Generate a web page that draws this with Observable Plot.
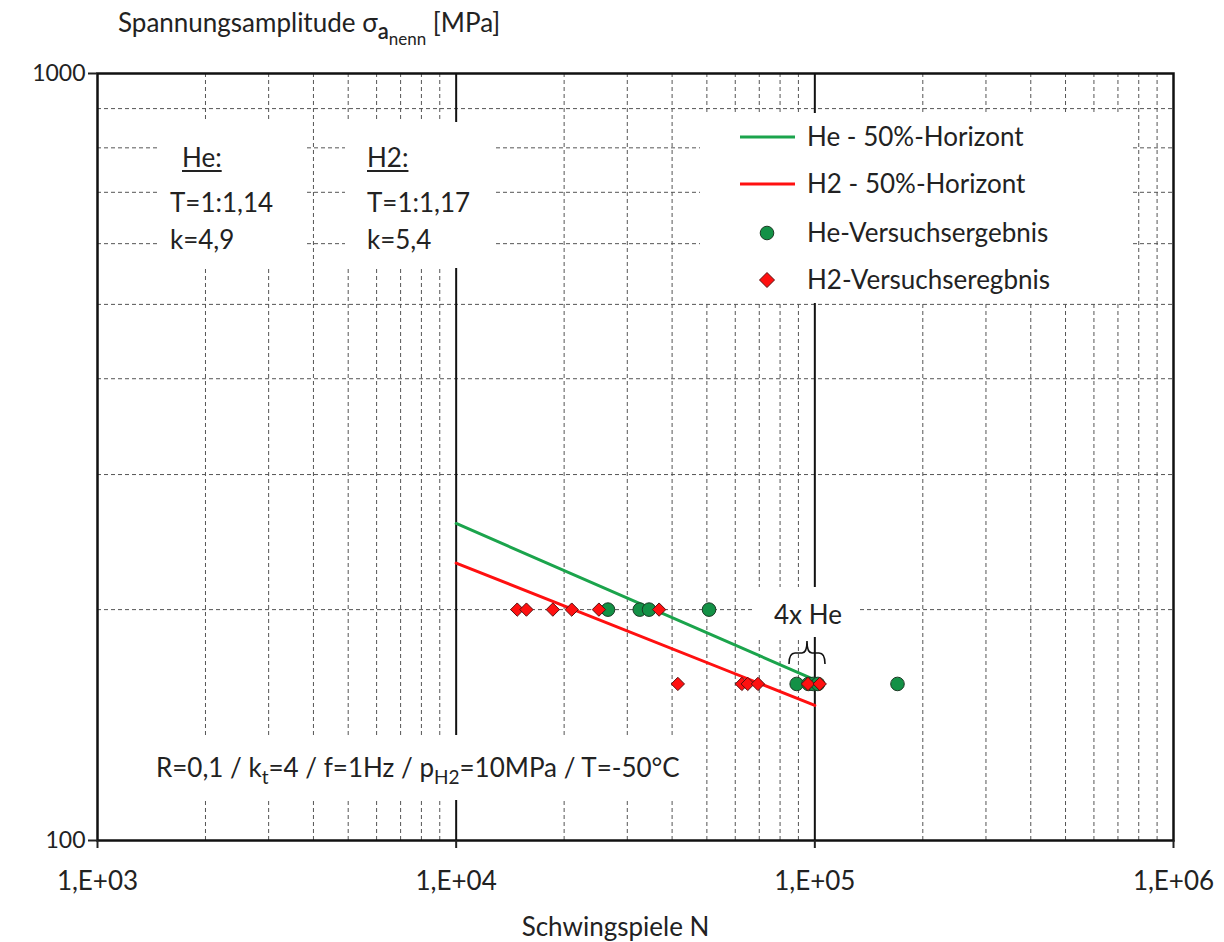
<!DOCTYPE html>
<html><head><meta charset="utf-8">
<script src="https://cdn.jsdelivr.net/npm/d3@7"></script>
<script src="https://cdn.jsdelivr.net/npm/@observablehq/plot@0.6"></script>
<style>
body{margin:0;background:#fff;font-family:Lato,"Open Sans",sans-serif;color:#222;}
#wrap{position:relative;width:1224px;height:942px;overflow:hidden;}
.ov{position:absolute;background:#fff;box-sizing:border-box;font-size:26px;line-height:1;white-space:nowrap;}
.ov div{position:absolute;}
#title{position:absolute;left:118px;top:6px;font-size:26px;white-space:nowrap;}
.sub1{font-size:22px;position:relative;top:7px;font-weight:600;}
.sub2{font-size:17px;position:relative;top:6px;font-weight:400;}
.s{font-size:19px;position:relative;top:7px;}
.u{text-decoration:underline;text-underline-offset:3px;text-decoration-thickness:2px;}
</style></head><body>
<div id="wrap"></div>
<script>
// ---- data ----
const heCycles = [26500, 32500, 34500, 50700, 89000, 96000, 99000, 102000, 170000];
const heStress = [200, 200, 200, 200, 160, 160, 160, 160, 160];
const h2Cycles = [14800, 15700, 18600, 21000, 25000, 36800, 41500, 62600, 65000, 69400, 95700, 103200];
const h2Stress = [200, 200, 200, 200, 200, 200, 160, 160, 160, 160, 160, 160];
const heLineN = [10000, 100000];
const heLineS = [259, 162];
const h2LineN = [10000, 100000];
const h2LineS = [230, 150];
const xTicks = [1e3, 1e4, 1e5, 1e6];
const xTickLabels = ["1,E+03", "1,E+04", "1,E+05", "1,E+06"];
const yTicks = [100, 1000];
const yTickLabels = ["100", "1000"];
const xDecades = [1e3, 1e4, 1e5];
const mantissas = [2, 3, 4, 5, 6, 7, 8, 9];
const yMinor = [200, 300, 400, 500, 600, 700, 800, 900];
const xMajorGrid = [1e4, 1e5];
const legendLabels = ["He - 50%-Horizont", "H2 - 50%-Horizont", "He-Versuchsergebnis", "H2-Versuchseregbnis"];

const xMinor = xDecades.flatMap(d => mantissas.map(m => d * m));
const heDots = heCycles.map((n, i) => ({n, s: heStress[i]}));
const h2Dots = h2Cycles.map((n, i) => ({n, s: h2Stress[i]}));
const heLine = heLineN.map((n, i) => ({n, s: heLineS[i]}));
const h2Line = h2LineN.map((n, i) => ({n, s: h2LineS[i]}));

const GREEN_LINE = "#1ba44c", GREEN_DOT = "#139146", RED = "#ff1010";
const FONT = "Lato, 'Open Sans', sans-serif";

const chart = Plot.plot({
  width: 1224, height: 942,
  marginLeft: 97, marginRight: 51, marginTop: 73, marginBottom: 102,
  style: {fontFamily: FONT, fontSize: "26px", color: "#222", background: "white"},
  x: {type: "log", domain: [1e3, 1e6]},
  y: {type: "log", domain: [100, 1000]},
  marks: [
    Plot.ruleX(xMinor, {stroke: "#555", strokeWidth: 1, strokeDasharray: "4,3"}),
    Plot.ruleY(yMinor, {stroke: "#555", strokeWidth: 1, strokeDasharray: "4,3"}),
    Plot.ruleX(xMajorGrid, {stroke: "#111", strokeWidth: 2}),
    Plot.frame({stroke: "#111", strokeWidth: 2.5}),
    Plot.axisX({ticks: xTicks, tickFormat: d => xTickLabels[Math.round(Math.log10(d)) - 3], tickSize: 8, tickPadding: 23, strokeWidth: 2, label: null, fontSize: 26}),
    Plot.axisY({ticks: yTicks, tickFormat: d => yTickLabels[Math.round(Math.log10(d)) - 2], tickSize: 9, tickPadding: 3, strokeWidth: 2, label: null, fontSize: 23}),
    Plot.line(heLine, {x: "n", y: "s", stroke: GREEN_LINE, strokeWidth: 3}),
    Plot.line(h2Line, {x: "n", y: "s", stroke: RED, strokeWidth: 3}),
    Plot.dot(heDots, {x: "n", y: "s", r: 6.8, fill: GREEN_DOT, stroke: "#1c3a25", strokeWidth: 1}),
    Plot.dot(h2Dots, {x: "n", y: "s", symbol: "diamond2", r: 6, fill: RED, stroke: "#5a1010", strokeWidth: 1}),
    Plot.text(["Schwingspiele N"], {frameAnchor: "bottom", dx: -20, dy: 95, fontSize: 26, fill: "#222"})
  ]
});
const wrap = document.getElementById("wrap");
wrap.appendChild(chart);

function addOv(html, left, top, w, h, cls = "ov") {
  const d = document.createElement("div");
  d.className = cls;
  d.style.left = left + "px"; d.style.top = top + "px";
  if (w) d.style.width = w + "px";
  if (h) d.style.height = h + "px";
  d.innerHTML = html;
  wrap.appendChild(d);
  return d;
}
// title
const t = document.createElement("div");
t.id = "title";
t.innerHTML = 'Spannungsamplitude σ<span class="sub1">a<span class="sub2">nenn</span></span> [MPa]';
wrap.appendChild(t);

// He / H2 text boxes
addOv('<div class="u" style="left:22px;top:22px">He:</div><div style="left:10px;top:67px">T=1:1,14</div><div style="left:10px;top:104px">k=4,9</div>', 160, 122, 145, 146);
addOv('<div class="u" style="left:22px;top:22px">H2:</div><div style="left:22px;top:67px">T=1:1,17</div><div style="left:22px;top:104px">k=5,4</div>', 345, 122, 150, 146);

// bottom annotation
addOv('<div style="left:21px;top:19px">R=0,1 / k<span class="s">t</span>=4 / f=1Hz / p<span class="s">H2</span>=10MPa / T=-50°C</div>', 135, 735, 570, 65);

// 4x He
addOv('<div style="left:19px;top:14px">4x He</div>', 755, 587, 103, 50);

// legend
const lg = addOv('', 700, 113, 430, 190);
const ys = [24, 71, 120, 167];
let svg = `<svg width="430" height="190" style="position:absolute;left:0;top:0">`;
svg += `<line x1="40" x2="95" y1="${ys[0]}" y2="${ys[0]}" stroke="${GREEN_LINE}" stroke-width="3"/>`;
svg += `<line x1="40" x2="95" y1="${ys[1]}" y2="${ys[1]}" stroke="${RED}" stroke-width="3"/>`;
svg += `<circle cx="67" cy="${ys[2]}" r="6.8" fill="${GREEN_DOT}" stroke="#1c3a25"/>`;
svg += `<path d="M67,${ys[3]-7.5}L74.5,${ys[3]}L67,${ys[3]+7.5}L59.5,${ys[3]}Z" fill="${RED}" stroke="#5a1010"/>`;
legendLabels.forEach((l, i) => {
  svg += `<text x="107" y="${ys[i]}" dy="0.35em" font-size="26" fill="#222" font-family="${FONT}">${l}</text>`;
});
svg += `</svg>`;
lg.innerHTML = svg;

// brace under "4x He"
const br = document.createElementNS("http://www.w3.org/2000/svg", "svg");
br.setAttribute("width", 1224); br.setAttribute("height", 942);
br.style.position = "absolute"; br.style.left = "0"; br.style.top = "0"; br.style.pointerEvents = "none";
br.innerHTML = '<path d="M789,664 Q789,653 795,653 L802,653 Q807,653 807,641 Q807,653 812,653 L819,653 Q825,653 825,664" fill="none" stroke="#111" stroke-width="1.6"/>';
wrap.appendChild(br);
</script>
</body></html>
